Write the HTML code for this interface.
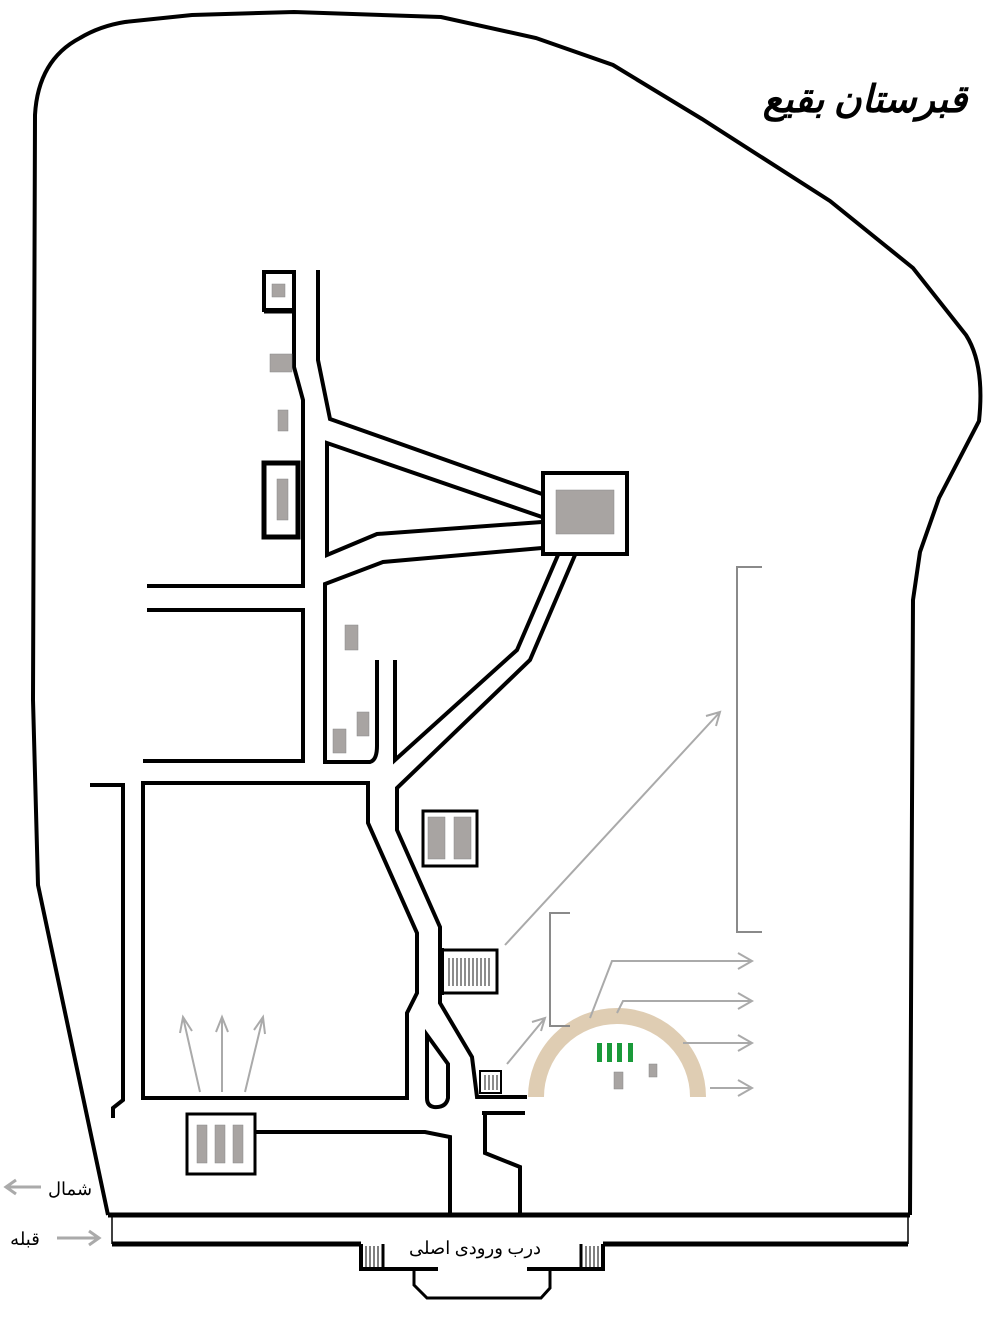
<!DOCTYPE html>
<html><head><meta charset="utf-8"><style>
html,body{margin:0;padding:0;background:#fff;}
svg{display:block;}
</style></head><body>
<svg width="1000" height="1322" viewBox="0 0 1000 1322" xmlns="http://www.w3.org/2000/svg">
<g fill="none" stroke="#000" stroke-linejoin="miter">
<path d="M108,1215 L38,885 L33,700 L35,115 Q38,60 80,38 Q100,26 125,22 L192,15 L294,12 L441,17 L536,38 L613,65 L702,119 L830,201 L913,268 L966,335 Q985,365 979,421 L939,498 L920,552 L913,600 L910,1215" stroke-width="4"/>
<path d="M108,1215 L910,1215" stroke-width="5"/>
<path d="M112,1244 L361,1244 M603,1244 L908,1244" stroke-width="5"/>
<path d="M112,1215 L112,1244 M908,1215 L908,1244" stroke-width="1.5"/>
<path d="M361,1244 L361,1269 L438,1269 M527,1269 L603,1269 L603,1244" stroke-width="4"/>
<path d="M414,1269 L414,1285 L427,1298 L541,1298 L550,1288 L550,1269" stroke-width="3"/>
<g stroke-width="1"><path d="M366,1246V1267M370,1246V1267M374,1246V1267M378,1246V1267M586,1246V1267M590,1246V1267M594,1246V1267M598,1246V1267"/></g>
<path d="M383,1244V1269M581,1244V1269" stroke-width="3"/>

<rect x="264" y="272" width="30" height="38" stroke-width="4"/>
<path d="M264,311 L294,311" stroke-width="5"/>
<path d="M318,270 L318,360 L330,419 L542,494" stroke-width="4"/>
<path d="M294,312 L294,367 L303,400 L303,586 L147,586" stroke-width="4"/>
<rect x="264" y="463" width="34" height="74" stroke-width="5"/>
<path d="M542,517 L327,443 L327,555 L377,534 L542,522" stroke-width="4"/>
<path d="M542,548 L383,562 L325,584 L325,762 L370,762 Q377,760 377,746 L377,660" stroke-width="4"/>
<path d="M395,660 L395,760 L517,650 L558,555" stroke-width="4"/>
<path d="M575,555 L530,660 L397,788 L397,830 L440,927 L440,950" stroke-width="4"/>
<path d="M147,610 L303,610 L303,761 L143,761" stroke-width="4"/>
<rect x="543" y="473" width="84" height="81" stroke-width="4"/>
<path d="M143,783 L368,783 L368,823 L417,933 L417,993 L407,1013 L407,1098 L143,1098 Z" stroke-width="4"/>
<path d="M90,785 L123,785 L123,1100 L113,1108 L113,1118" stroke-width="4"/>
<path d="M440,993 L440,1003 L472,1057 L477,1097 L527,1097" stroke-width="4"/>
<path d="M427,1035 L448,1064 L448,1098 Q446,1108 434,1107 Q427,1106 427,1098 Z" stroke-width="4"/>
<rect x="423" y="811" width="54" height="55" stroke-width="3"/>
<rect x="442" y="950" width="55" height="43" stroke-width="3"/>
<path d="M441,948 L441,995" stroke-width="6"/>
<rect x="480" y="1071" width="21" height="22" stroke-width="2"/>
<path d="M482,1113 L525,1113 M485,1113 L485,1153 L520,1167 L520,1215" stroke-width="4"/>
<path d="M255,1132 L425,1132 L450,1137 L450,1215" stroke-width="4"/>
<rect x="187" y="1114" width="68" height="60" stroke-width="3"/>
</g>

<g stroke="#666" stroke-width="1.5">
<path d="M449,958V986M453,958V986M457,958V986M461,958V986M465,958V986M469,958V986M473,958V986M477,958V986M481,958V986M485,958V986M489,958V986"/>
<path d="M485,1075V1090M489,1075V1090M493,1075V1090M497,1075V1090"/>
</g>

<g fill="#a8a4a2" stroke="#888" stroke-width="0.5">
<rect x="272" y="284" width="13" height="13"/>
<rect x="270" y="354" width="22" height="18"/>
<rect x="278" y="410" width="10" height="21"/>
<rect x="277" y="479" width="11" height="41"/>
<rect x="556" y="490" width="58" height="44"/>
<rect x="345" y="625" width="13" height="25"/>
<rect x="357" y="712" width="12" height="24"/>
<rect x="333" y="729" width="13" height="24"/>
<rect x="428" y="817" width="17" height="42"/>
<rect x="454" y="817" width="17" height="42"/>
<rect x="197" y="1125" width="10" height="38"/>
<rect x="215" y="1125" width="10" height="38"/>
<rect x="233" y="1125" width="10" height="38"/>
<rect x="614" y="1072" width="9" height="17"/>
<rect x="649" y="1064" width="8" height="13"/>
</g>

<path d="M536,1097 A81,81 0 0 1 698,1097" fill="none" stroke="#dfcdb3" stroke-width="16"/>
<g fill="#1a9a3a"><rect x="597" y="1043" width="5" height="19"/><rect x="607" y="1043" width="5" height="19"/><rect x="617" y="1043" width="5" height="19"/><rect x="628" y="1043" width="5" height="19"/></g>

<g fill="none" stroke="#8a8a8a" stroke-width="2">
<path d="M762,567 L737,567 L737,932 L762,932"/>
<path d="M570,913 L550,913 L550,1026 L570,1026"/>
</g>
<g fill="none" stroke="#aaa" stroke-width="2">
<path d="M505,945 L720,712 M706,716 L720,712 L716,726"/>
<path d="M590,1018 L612,961 L752,961 M738,953 L752,961 L738,969"/>
<path d="M617,1013 L623,1001 L752,1001 M738,993 L752,1001 L738,1009"/>
<path d="M683,1043 L752,1043 M738,1035 L752,1043 L738,1051"/>
<path d="M710,1088 L752,1088 M738,1080 L752,1088 L738,1096"/>
<path d="M507,1064 L545,1018 M532,1022 L545,1018 L541,1031"/>
<path d="M200,1092 L183,1017 M180,1033 L183,1017 L192,1031"/>
<path d="M222,1092 L222,1017 M216,1032 L222,1017 L228,1032"/>
<path d="M245,1092 L263,1017 M254,1030 L263,1017 L265,1034"/>
<path d="M41,1187 L6,1187 M16,1180 L6,1187 L16,1194" stroke-width="3"/>
<path d="M57,1238 L99,1238 M89,1231 L99,1238 L89,1245" stroke-width="3"/>
</g>

<g font-family="'Liberation Serif','Noto Serif CJK SC','DejaVu Serif',serif" fill="#000">
<text x="865" y="112" font-size="38" font-style="italic" font-weight="bold" text-anchor="middle" direction="rtl">قبرستان بقیع</text>
<text x="475" y="1254" font-size="18" text-anchor="middle" direction="rtl">درب ورودی اصلی</text>
<text x="70" y="1195" font-size="18" text-anchor="middle" direction="rtl">شمال</text>
<text x="25" y="1245" font-size="18" text-anchor="middle" direction="rtl">قبله</text>
</g>
</svg>
</body></html>
